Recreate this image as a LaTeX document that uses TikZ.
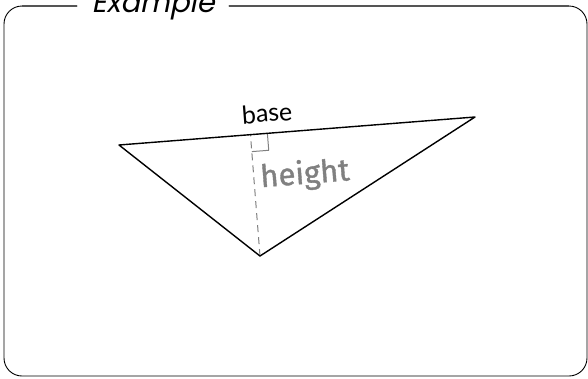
\documentclass[tikz,border=0pt]{standalone}
\usepackage{fontspec}
\usetikzlibrary{calc}
\newfontfamily\titlefont[FakeSlant=0.2]{Poppins}
\newfontfamily\labelfont{Lato}
\newfontfamily\handfont[FakeBold=1.2]{Fira Sans}
\begin{document}
\begin{tikzpicture}[x=1pt,y=-1pt,line join=round]
\definecolor{framegray}{RGB}{85,85,85}
\definecolor{heightc}{RGB}{128,128,128}
\useasboundingbox (0,0) rectangle (588,378);
% frame with the title set into its top edge
\node[font=\titlefont\fontsize{29}{33}\selectfont,inner xsep=14pt] (title) at (153,6) {Example};
\draw[black,line width=0.9pt,rounded corners=18pt]
  (title.west) -- (4,6) -- (4,376) -- (587,376) -- (587,6) -- (title.east);
\draw[framegray,line width=1.6pt] (title.west) -- (22,6) (title.east) -- (569,6);
% the triangle and its height onto the base
\coordinate (left) at (119,145);
\coordinate (right) at (475,117);
\coordinate (apex) at (260,256);
\coordinate (foot) at ($(left)!(apex)!(right)$);
\coordinate (markA) at ($(foot)!17pt!(right)$);
\coordinate (markB) at ($(foot)!17pt!(apex)$);
\coordinate (markC) at ($(markA)+(markB)-(foot)$);
\draw[heightc,line width=1pt,dash pattern=on 7pt off 5pt] (apex) -- (foot);
\draw[heightc,line width=1pt] (markA) -- (markC) -- (markB);
\draw[black,line width=1.4pt] (left) -- (right) -- (apex) -- cycle;
\node[font=\labelfont\fontsize{25}{30}\selectfont,rotate=4.5] (baselbl) at (267,113) {base};
\node[font=\handfont\fontsize{31}{36}\selectfont,heightc,rotate=4.5] (heightlbl) at (305,175) {height};
\end{tikzpicture}
\end{document}
